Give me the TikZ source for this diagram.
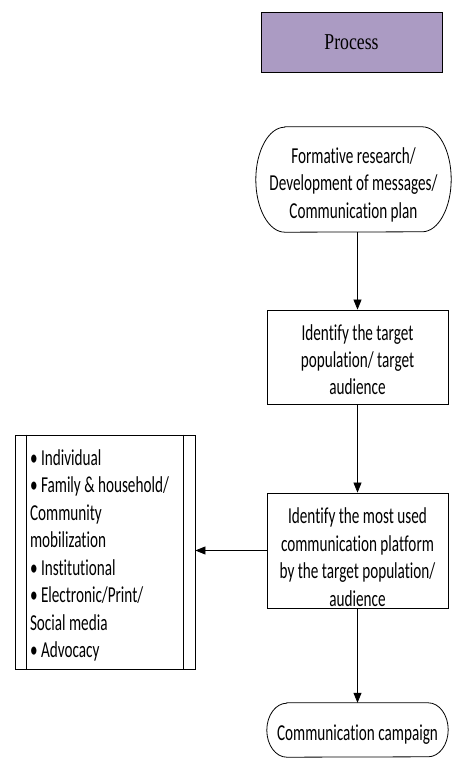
\documentclass[tikz,border=0pt]{standalone}
\usepackage{fontspec}
\usepackage{graphicx}
\usetikzlibrary{arrows.meta,calc}
\newfontfamily\cbf[Ligatures=NoCommon]{Carlito}
\newfontfamily\psf{Liberation Serif}
\definecolor{procfill}{RGB}{171,155,195}
\newcommand\vtxt[3][c]{\raisebox{-#2}[\height][\depth]{\scalebox{1}[1.5]{\cbf\fontsize{15.2}{18.3}\selectfont\begin{tabular}{@{}#1@{}}#3\end{tabular}}}}
\tikzset{
  box/.style={draw=black, line width=0.8pt, rectangle, inner sep=0pt, align=center},
  termbox/.style={rectangle, inner sep=0pt, align=center},
  conn/.style={line width=0.8pt, -{Triangle[length=10pt,width=8pt]}},
  outline/.style={line width=0.8pt}
}
\begin{document}
\begin{tikzpicture}[x=1pt,y=1pt]
\useasboundingbox (0,0) rectangle (452,758);
% Process header
\node[box, fill=procfill, minimum width=181pt, minimum height=60pt] (proc) at (351.5,716)
  {\scalebox{1}[1.28]{\psf\fontsize{17.7}{20}\selectfont Process}};
% Top terminal
\node[termbox, minimum width=195pt, minimum height=105pt] (t1) at (353.5,578.5)
  {\vtxt{6pt}{Formative research/\\Development of messages/\\Communication plan}};
\draw[outline] ([xshift=29pt]t1.north west) -- ([xshift=-29pt]t1.north east)
  arc[start angle=90, end angle=-90, x radius=29pt, y radius=52.5pt]
  -- ([xshift=29pt]t1.south west)
  arc[start angle=270, end angle=90, x radius=29pt, y radius=52.5pt] -- cycle;
% Box 2
\node[box, minimum width=181pt, minimum height=94pt] (b2) at (357.5,401)
  {\vtxt{5pt}{Identify the target\\population/ target\\audience}};
% Box 3
\node[box, minimum width=181pt, minimum height=115pt] (b3) at (357.5,207.5)
  {\vtxt{9pt}{Identify the most used\\communication platform\\by the target population/\\audience}};
% Left box
\node[box, minimum width=180pt, minimum height=234pt] (lb) at (105,206)
  {\makebox[150pt][l]{\vtxt[l]{4pt}{\textbullet\ Individual\\\textbullet\ Family \& household/\\Community\\mobilization\\\textbullet\ Institutional\\\textbullet\ Electronic/Print/\\Social media\\\textbullet\ Advocacy}}};
\draw[outline] ([xshift=12pt]lb.north west) -- ([xshift=12pt]lb.south west);
\draw[outline] ([xshift=-12pt]lb.north east) -- ([xshift=-12pt]lb.south east);
% Bottom terminal
\node[termbox, minimum width=181pt, minimum height=54pt] (t2) at (357.5,28)
  {\vtxt{5pt}{Communication campaign}};
\draw[outline] ([xshift=20pt]t2.north west) -- ([xshift=-20pt]t2.north east)
  arc[start angle=90, end angle=-90, x radius=20pt, y radius=27pt]
  -- ([xshift=20pt]t2.south west)
  arc[start angle=270, end angle=90, x radius=20pt, y radius=27pt] -- cycle;
% Connectors
\draw[conn] (b2.north |- t1.south) -- (b2.north);
\draw[conn] (b2.south) -- (b3.north);
\draw[conn] (b3.south) -- (t2.north);
\draw[conn] (b3.west) -- (b3.west -| lb.east);
\end{tikzpicture}
\end{document}
